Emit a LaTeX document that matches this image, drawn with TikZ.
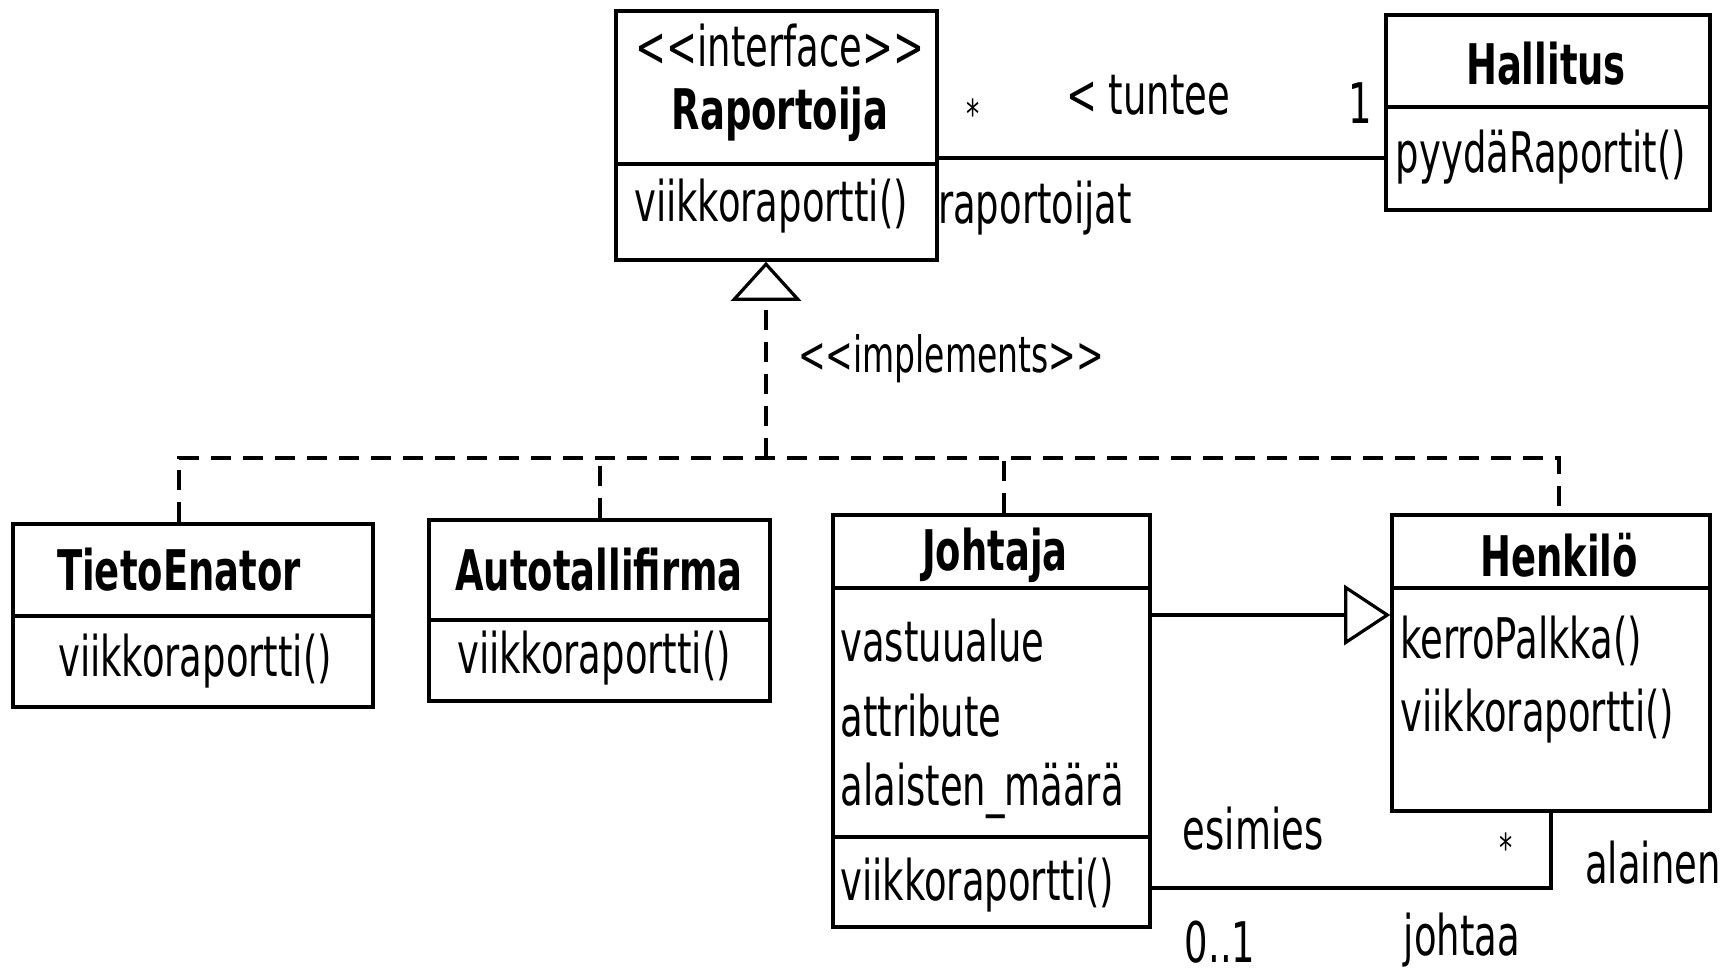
\documentclass[tikz,border=0pt]{standalone}
\usepackage{fontspec}
\setmainfont{DejaVu Sans}[FakeStretch=0.66]
\usepackage{tikz}
\usetikzlibrary{arrows.meta}
\definecolor{ink}{HTML}{000000}
% class box from pixel corners: name, left, top, right, bottom
\newcommand{\umlclass}[5]{%
  \node[cls,minimum width={(#4-#2)*0.5pt},minimum height={(#5-#3)*0.5pt}]
    (#1) at ({(#2+#4)/2},{(#3+#5)/2}) {};}
\newcommand{\umlsep}[2]{%
  \draw[sepline] (#1.west |- 0,#2) -- (#1.east |- 0,#2);}
% guillemets written as two angle brackets
\newcommand{\stereo}[1]{<\kern0pt<#1>\kern0pt>}

\begin{document}
\begin{tikzpicture}[x=0.5pt,y=-0.5pt,font=\fontsize{28}{34}\selectfont,text=ink,
  cls/.style={draw=ink,line width=1.8pt,inner sep=0pt},
  sepline/.style={draw=ink,line width=1.8pt},
  ttl/.style={font=\bfseries\fontsize{28}{34}\selectfont,inner sep=0pt},
  txt/.style={inner sep=0pt},
  mem/.style={inner sep=0pt,anchor=west},
  assoc/.style={draw=ink,line width=1.6pt},
  impl/.style={draw=ink,line width=1.6pt,dash pattern=on 10pt off 6pt},
  gen/.style={assoc,-{Triangle[open,length=23pt,width=30pt]}}]
\useasboundingbox (0,0) rectangle (1734,973);
\umlclass{rap}{616}{11}{937}{260}
\umlclass{hal}{1386}{15}{1710}{210}
\umlclass{tie}{13}{524}{373}{707}
\umlclass{aut}{429}{520}{770}{701}
\umlclass{joh}{833}{515}{1150}{927}
\umlclass{hen}{1392}{515}{1710}{811}
\umlsep{rap}{164}
\umlsep{hal}{107}
\umlsep{tie}{616}
\umlsep{aut}{620}
\umlsep{joh}{588}
\umlsep{joh}{837}
\umlsep{hen}{588}

\node[txt] (rap-s) at (780,46) {\stereo{interface}};
\node[ttl] (rap-t) at (780,114) {Raportoija};
\node[txt] (rap-o) at (771,206) {viikkoraportti()};
\node[ttl] (hal-t) at (1546,64) {Hallitus};
\node[txt] (hal-o) at (1541,157) {pyydäRaportit()};
\node[ttl] (tie-t) at (179,570) {TietoEnator};
\node[txt] (tie-o) at (195,661) {viikkoraportti()};
\node[ttl] (aut-t) at (599,570) {Autotallifirma};
\node[txt] (aut-o) at (594,658) {viikkoraportti()};
\node[ttl] (joh-t) at (995,555) {Johtaja};
\foreach \m/\y [count=\i] in {vastuualue/641,attribute/716,alaisten\_määrä/791,viikkoraportti()/885}
  \node[mem] (joh-\i) at (840,\y) {\m};
\node[ttl] (hen-t) at (1559,555) {Henkilö};
\foreach \m/\y [count=\i] in {kerroPalkka()/641,viikkoraportti()/716}
  \node[mem] (hen-\i) at (1400,\y) {\m};

% Raportoija -- Hallitus
\draw[assoc] (rap.east |- 0,158) -- (hal.west |- 0,158);
\node[txt,font=\fontsize{20}{24}\selectfont] (m-many) at (973,114) {*};
\node[txt] (m-name) at (1148,95) {< tuntee};
\node[txt] (m-one) at (1360,103) {1};
\node[txt] (m-role) at (1035,208) {raportoijat};

% realisation
\coordinate (bus) at (766,458);
\coordinate (bl) at (179,458);
\coordinate (br) at (1559,458);
\draw[impl,-{Triangle[open,length=19.5pt,width=35pt]}] (bus) -- (bus |- rap.south);
\draw[impl] (tie.north -| bl) -- (bl) -- (br) -- (hen.north -| br);
\foreach \n/\x in {aut/600,joh/1004}
  \draw[impl] (\n.north -| \x,0) -- (\x,458);
\node[txt,font=\fontsize{25}{30}\selectfont] (impl-l) at (951,359) {\stereo{implements}};

% Johtaja is a Henkilö
\draw[gen] (joh.east |- 0,615) -- (hen.west |- 0,615);

% johtaa
\draw[assoc] (joh.east |- 0,888) -| (hen.south);
\node[txt] (j-role) at (1253,829) {esimies};
\node[txt,font=\fontsize{20}{24}\selectfont] (j-many) at (1506,848) {*};
\node[txt] (j-sub) at (1653,863) {alainen};
\node[txt] (j-one) at (1220,942) {0..1};
\node[txt] (j-name) at (1462,940) {johtaa};
\end{tikzpicture}
\end{document}
